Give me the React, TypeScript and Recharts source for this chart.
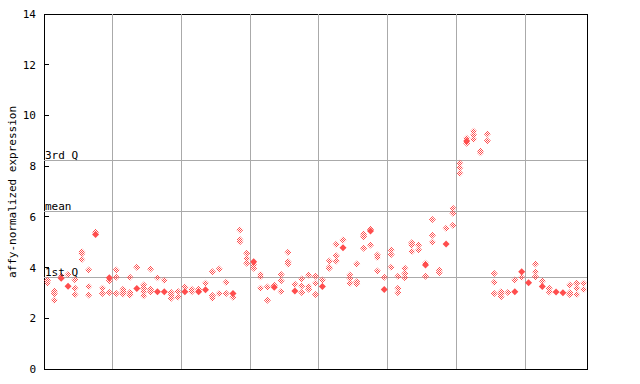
import React from "react";
import {
  ScatterChart,
  Scatter,
  XAxis,
  YAxis,
  ReferenceLine,
  ReferenceArea,
} from "recharts";

// one entry per sample, left to right (79 samples, 10 per group)
const openValues: number[][] = [
  [3.5, 3.38], [3.08, 2.97, 2.71], [3.68], [3.73], [3.52, 3.18, 2.94],
  [4.62, 4.55, 4.32], [3.9, 3.25, 2.92], [5.4], [3.18, 2.98], [3.48, 3.02],
  [3.9, 3.62, 2.98], [3.15, 3.05, 2.96], [3.62, 3.02, 2.92], [4.01], [3.31, 3.18, 3.05, 2.89],
  [3.94, 3.15, 3.05], [3.6], [3.5], [3.02, 2.92, 2.79], [3.06, 2.84],
  [3.23], [3.15, 3.05], [3.15], [3.38], [3.84, 2.9, 2.79],
  [3.94, 2.98], [3.42, 2.98], [2.83], [5.48, 5.11, 5.02], [4.56, 4.36, 4.17],
  [4.1, 3.97], [3.73, 3.64, 3.18], [3.23, 2.71], [3.3], [3.73, 3.48, 3.06],
  [4.6, 4.23, 4.14], [3.34], [3.55, 3.27, 3.02], [3.71, 3.25, 3.15], [3.66, 3.38, 2.94],
  [3.51], [4.26, 4.01, 3.97], [4.92, 4.47, 4.26], [5.09], [3.71, 3.58, 3.38],
  [4.14, 3.44, 3.35], [5.32, 5.22, 4.76], [5.51, 4.89], [4.5, 4.4, 3.86], [3.62],
  [4.69, 4.52, 4.01], [3.66, 3.18, 3.01], [3.97, 3.77, 3.6], [4.98, 4.89, 4.63], [4.89, 4.69],
  [4.17, 3.66], [5.9, 5.27, 5.0], [3.9, 3.8], [5.55], [6.34, 6.14, 5.67],
  [8.11, 7.94, 7.72], [9.1, 8.9], [9.38, 9.23, 9.06], [8.6, 8.53], [9.27, 9.0],
  [3.77, 3.42, 2.98], [3.05, 2.96, 2.85], [3.02], [3.51], [3.62],
  [], [4.14, 3.84, 3.64], [3.47], [3.18, 3.04], [],
  [], [3.31, 3.01, 2.94], [3.38, 3.18, 2.94], [3.38, 3.14],
];

// solid (filled) marks: [sample index, value]
const solidValues: [number, number][] = [
  [2, 3.58], [3, 3.26], [7, 5.3], [9, 3.6], [13, 3.17], [16, 3.05], [17, 3.05],
  [20, 3.05], [22, 3.05], [23, 3.13], [27, 2.98], [30, 4.23], [33, 3.22],
  [36, 3.08], [40, 3.25], [43, 4.78], [47, 5.44], [49, 3.14], [55, 4.1],
  [58, 4.93], [61, 8.99], [68, 3.05], [69, 3.84], [70, 3.4], [72, 3.25],
  [74, 3.04], [75, 3.01],
];

const groupBreaks = [10, 20, 30, 40, 50, 60, 70];
const yTicks = [0, 2, 4, 6, 8, 10, 12, 14];
const statLines = [
  { label: "1st Q", value: 3.62 },
  { label: "mean", value: 6.23 },
  { label: "3rd Q", value: 8.23 },
];

const sampleCount = openValues.length;
const openData = openValues.flatMap((vals, i) => vals.map((v) => ({ x: i + 0.5, y: v })));
const solidData = solidValues.map(([i, v]) => ({ x: i + 0.5, y: v }));

const FONT = "'DejaVu Sans Mono', monospace";
const RED = "#ff4d4d";

const OpenDiamond = ({ cx, cy }: any) => (
  <path
    d={`M${cx},${cy - 3.5}L${cx + 3.5},${cy}L${cx},${cy + 3.5}L${cx - 3.5},${cy}Z`}
    fill="url(#chk)"
  />
);

const SolidDiamond = ({ cx, cy }: any) => (
  <path
    d={`M${cx},${cy - 3.5}L${cx + 3.5},${cy}L${cx},${cy + 3.5}L${cx - 3.5},${cy}Z`}
    fill={RED}
  />
);

const LeftTick = ({ x, y, payload }: any) => (
  <g>
    <line x1={x + 8} x2={x + 13} y1={y} y2={y} stroke="#000" shapeRendering="crispEdges" />
    <text x={x} y={y} dy={4} textAnchor="end" fontFamily={FONT} fontSize={11} fill="#000">
      {payload.value}
    </text>
  </g>
);

const RightTick = ({ x, y }: any) => (
  <line x1={x - 13} x2={x - 8} y1={y} y2={y} stroke="#000" shapeRendering="crispEdges" />
);

const YLabel = () => (
  <text
    x={12}
    y={192}
    transform="rotate(-90, 12, 192)"
    textAnchor="middle"
    dominantBaseline="central"
    fontFamily={FONT}
    fontSize={11}
    fill="#000"
  >
    affy-normalized expression
  </text>
);

export default function App() {
  return (
    <div style={{ position: "absolute", left: 0, top: 0, width: 640, height: 384, background: "#fff" }}>
      <ScatterChart width={640} height={384} margin={{ top: 14, right: 0, bottom: 15, left: 0 }}>
        <defs>
          <pattern id="chk" width="2" height="2" patternUnits="userSpaceOnUse">
            <rect x="0" y="0" width="1" height="1" fill={RED} />
            <rect x="1" y="1" width="1" height="1" fill={RED} />
          </pattern>
        </defs>
        <XAxis type="number" dataKey="x" domain={[0, sampleCount]} hide />
        <YAxis
          yAxisId="l"
          type="number"
          dataKey="y"
          domain={[0, 14]}
          ticks={yTicks}
          width={44}
          axisLine={false}
          tickLine={false}
          tick={<LeftTick />}
          label={{ content: <YLabel /> }}
        />
        <YAxis
          yAxisId="r"
          orientation="right"
          type="number"
          domain={[0, 14]}
          ticks={yTicks}
          width={53}
          axisLine={false}
          tickLine={false}
          tick={<RightTick />}
        />
        {groupBreaks.map((b) => (
          <ReferenceLine key={b} x={b} yAxisId="l" stroke="#aaaaaa" shapeRendering="crispEdges" />
        ))}
        {statLines.map((s) => (
          <ReferenceLine
            key={s.label}
            y={s.value}
            yAxisId="l"
            stroke="#aaaaaa"
            shapeRendering="crispEdges"
            label={{
              value: s.label,
              position: "insideBottomLeft",
              offset: 1,
              fill: "#000",
              fontFamily: FONT,
              fontSize: 11,
            }}
          />
        ))}
        <Scatter yAxisId="l" data={openData} shape={<OpenDiamond />} isAnimationActive={false} />
        <Scatter yAxisId="l" data={solidData} shape={<SolidDiamond />} isAnimationActive={false} />
        <ReferenceArea
          yAxisId="l"
          x1={0}
          x2={sampleCount}
          y1={0}
          y2={14}
          fill="none"
          fillOpacity={0}
          stroke="#000"
          strokeOpacity={1}
          shapeRendering="crispEdges"
        />
      </ScatterChart>
    </div>
  );
}
